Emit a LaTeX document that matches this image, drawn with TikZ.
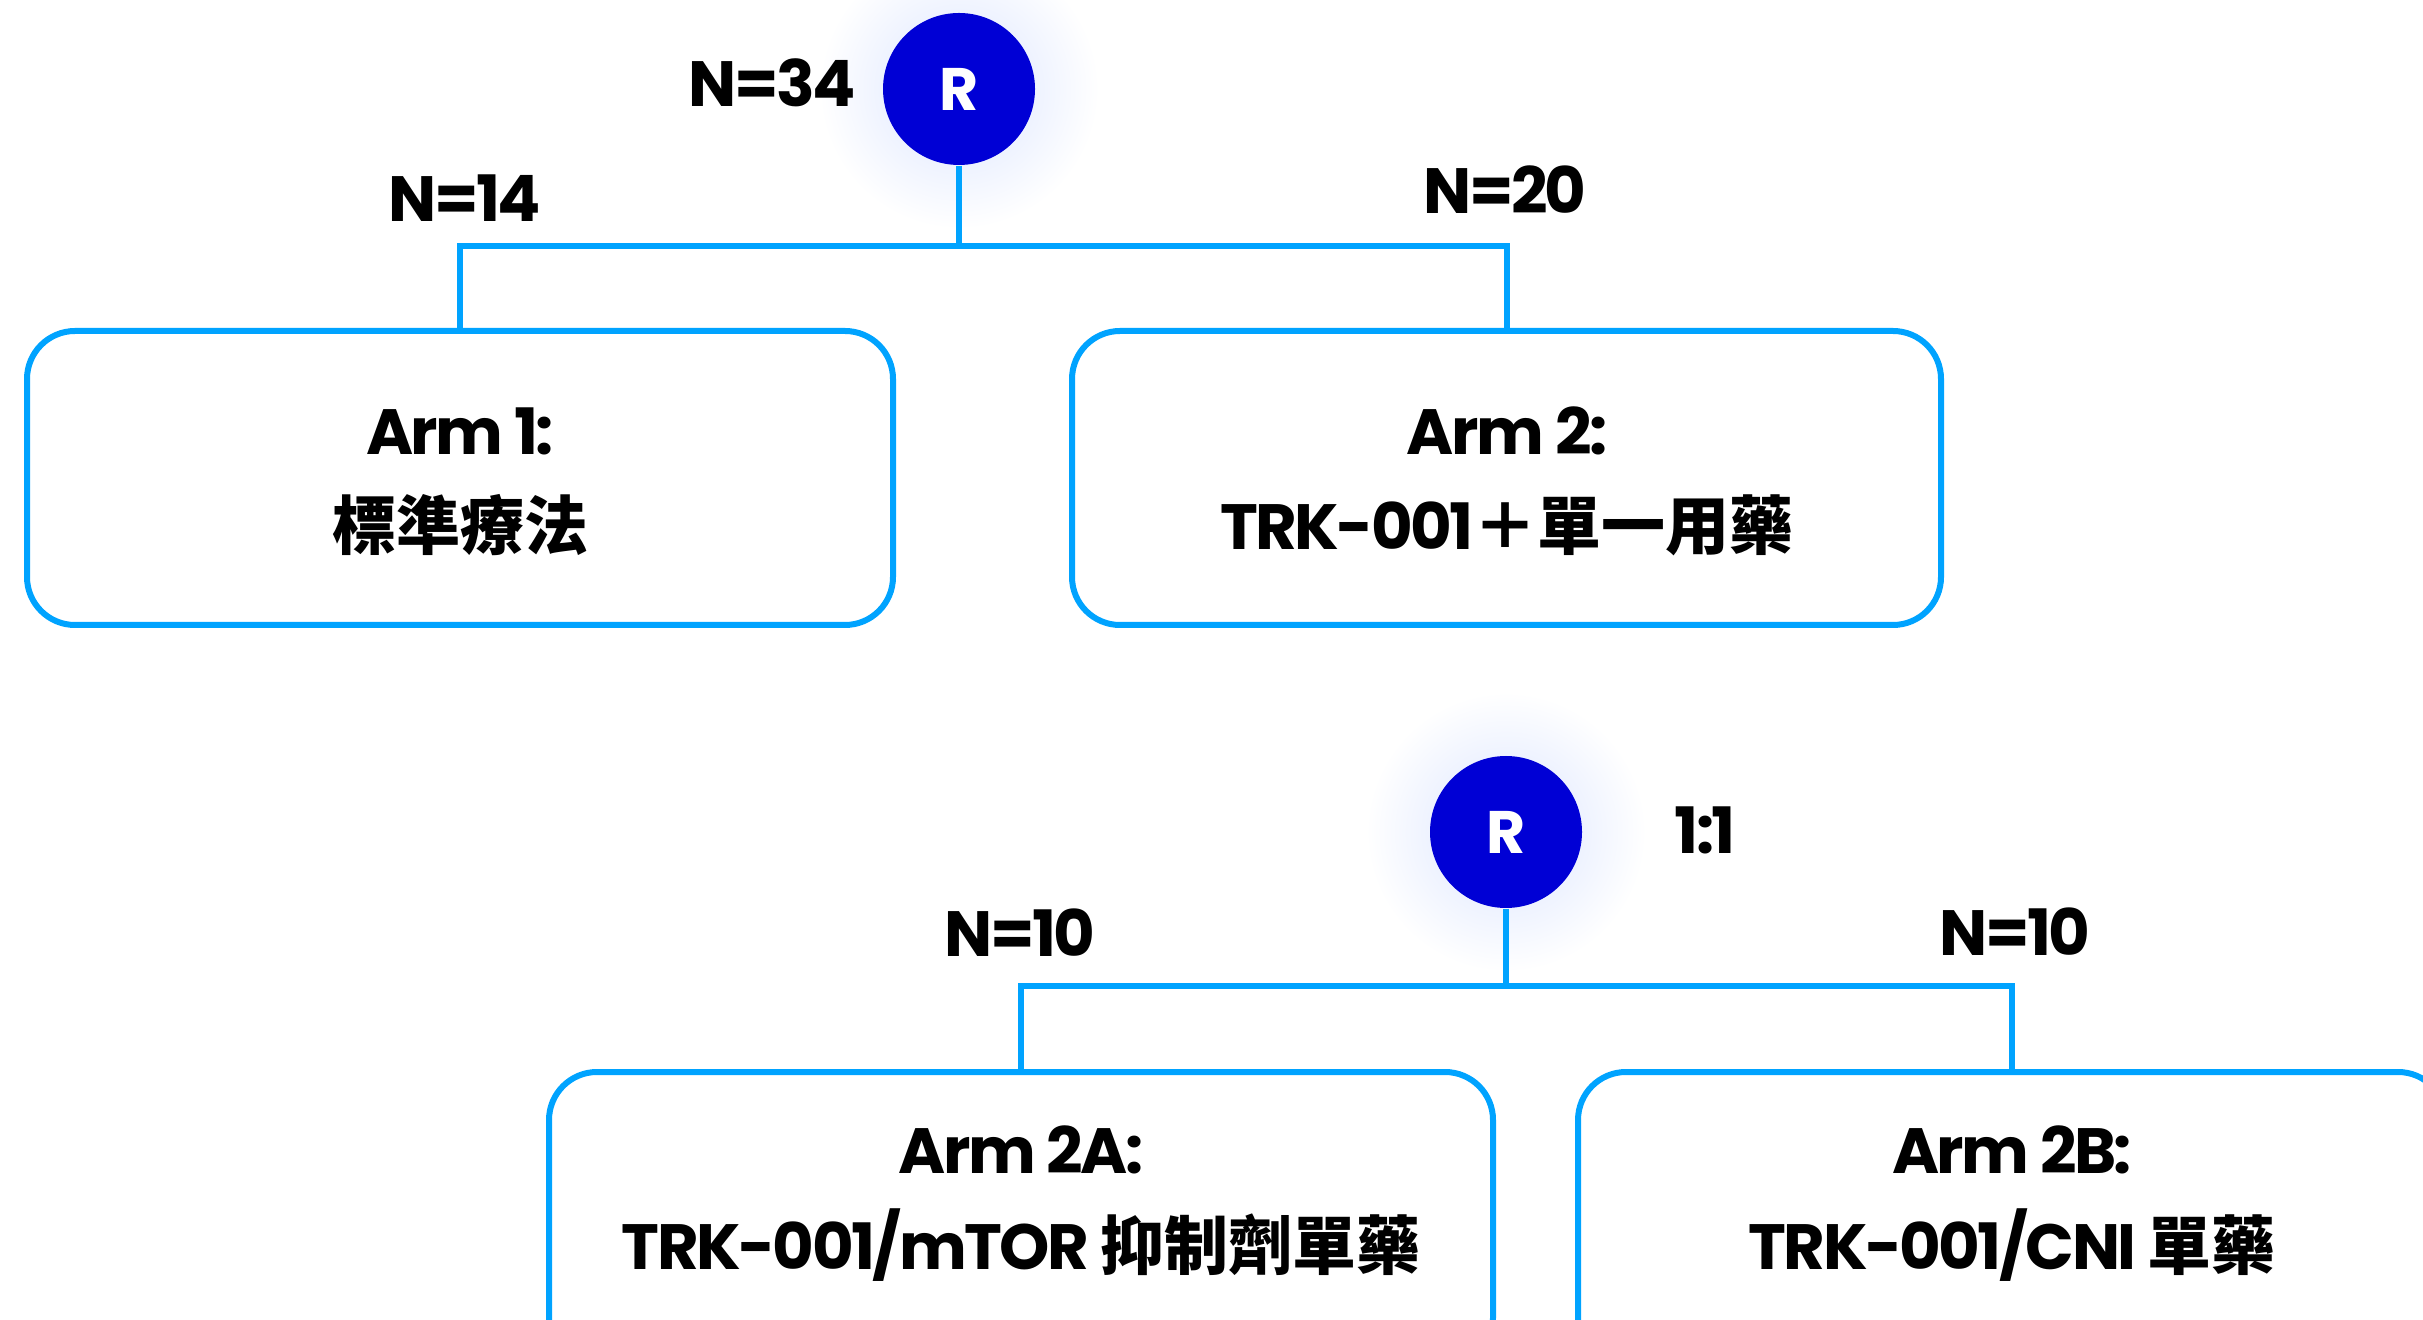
\documentclass[tikz,border=0pt]{standalone}
\usepackage{fontspec}
\setmainfont{Poppins}[LetterSpace=-4]
\newfontfamily\cjk{Noto Sans CJK TC}
\definecolor{lineblue}{RGB}{0,163,255}
\definecolor{rblue}{RGB}{0,0,213}
\definecolor{glow}{RGB}{218,228,255}
\begin{document}
\begin{tikzpicture}[x=0.3pt,y=-0.3pt,
  conn/.style={draw=lineblue,line width=1.8pt},
  armbox/.style={draw=lineblue,line width=1.8pt,rounded corners=14.4pt,rectangle,inner sep=0,minimum height=88.2pt},
  rnode/.style={circle,fill=rblue,minimum size=45.6pt,inner sep=0,text=white,font=\bfseries\fontsize{18}{22}\selectfont},
  lbl/.style={font=\bfseries\fontsize{19.2}{23}\selectfont,inner sep=0},
  ]
\useasboundingbox (0,0) rectangle (2423,1320);
% glows
\shade[inner color=glow,outer color=white] (959,89) circle (42pt);
\shade[inner color=glow,outer color=white] (1506,832) circle (42pt);
% boxes
\node[armbox,minimum width=259.8pt] (box1) at (460,478) {};
\node[armbox,minimum width=260.7pt] (box2) at (1506.5,478) {};
\node[armbox,minimum width=283.2pt] (box2a) at (1021,1219) {};
\node[armbox,minimum width=260.4pt] (box2b) at (2012,1219) {};
% R nodes
\node[rnode] (r1) at (959,89) {R};
\node[rnode] (r2) at (1506,832) {R};
% junctions
\coordinate (j1) at (959,246);
\coordinate (j2) at (1506,986);
\draw[conn] (r1.south) -- (j1);
\draw[conn] (box1.north) |- (j1) -| (box2.north);
\draw[conn] (r2.south) -- (j2);
\draw[conn] (box2a.north) |- (j2) -| (box2b.north);
% labels
\node[lbl] (n34) at (772,83) {N=34};
\node[lbl] (n14) at (465,198) {N=14};
\node[lbl] (n20) at (1505,190) {N=20};
\node[lbl] (n10a) at (1020,933) {N=10};
\node[lbl] (n10b) at (2015,932) {N=10};
\node[lbl] (ratio) at (1705,830) {1:1};
% box texts
\node[lbl] (t1a) at (460,431) {Arm 1:};
\node[lbl] (t1b) at (460,525) {\cjk 標準療法};
\node[lbl] (t2a) at (1507,431) {Arm 2:};
\node[lbl] (t2b) at (1507,525) {TRK-001{\cjk ＋單一用藥}};
\node[lbl] (t3a) at (1021,1150) {Arm 2A:};
\node[lbl] (t3b) at (1021,1245) {TRK-001/mTOR {\cjk 抑制劑單藥}};
\node[lbl] (t4a) at (2012,1150) {Arm 2B:};
\node[lbl] (t4b) at (2012,1245) {TRK-001/CNI {\cjk 單藥}};
\end{tikzpicture}
\end{document}
